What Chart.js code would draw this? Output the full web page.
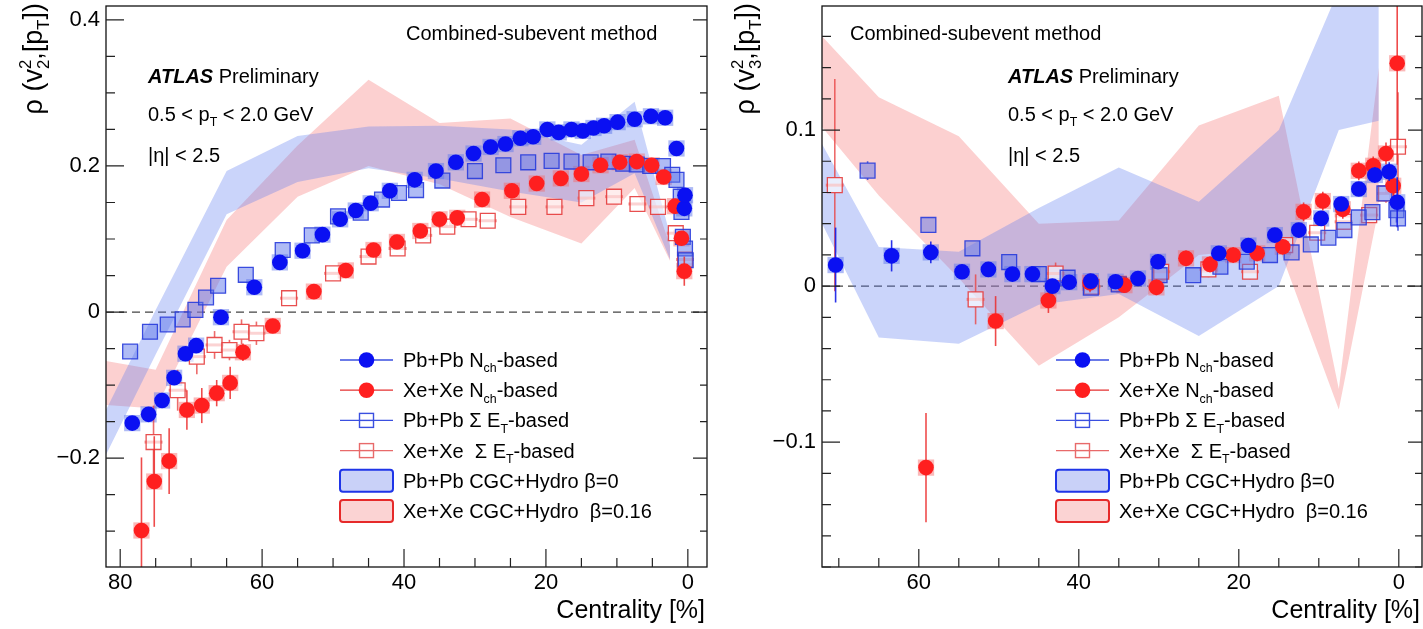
<!DOCTYPE html>
<html>
<head>
<meta charset="utf-8">
<title>rho(vn^2,[pT]) vs centrality</title>
<script src="https://cdn.jsdelivr.net/npm/chart.js@4.4.1/dist/chart.umd.min.js"></script>
<style>
  html, body { margin: 0; padding: 0; background: #fff; }
  #wrap { position: relative; width: 1423px; height: 629px; }
  canvas { position: absolute; top: 0; }
  #cv2 { left: 0; }
  #cv3 { left: 712px; }
</style>
</head>
<body>
<div id="wrap">
  <canvas id="cv2" width="712" height="629"></canvas>
  <canvas id="cv3" width="711" height="629"></canvas>
</div>
<script>
// ---------- left panel: rho(v2^2,[pT]) ----------
const v2XTicks = [0, 20, 40, 60, 80];
const v2YTicks = [-0.2, 0, 0.2, 0.4];

const v2PbNchX = [78.3, 76.0, 74.1, 72.4, 70.8, 69.3, 65.8, 61.1, 57.5, 54.3, 51.5, 49.0, 46.8, 44.7, 42.0, 38.5, 35.5, 32.7, 30.2, 27.8, 25.7, 23.6, 21.8, 19.8, 18.2, 16.4, 14.8, 13.3, 11.8, 9.9, 7.5, 5.2, 3.2, 1.6, 0.5, 0.4];
const v2PbNchY = [-0.152, -0.140, -0.121, -0.090, -0.057, -0.046, -0.007, 0.034, 0.068, 0.084, 0.106, 0.127, 0.139, 0.149, 0.166, 0.181, 0.193, 0.205, 0.217, 0.226, 0.230, 0.238, 0.240, 0.250, 0.246, 0.250, 0.248, 0.252, 0.255, 0.260, 0.264, 0.268, 0.266, 0.224, 0.142, 0.160];
const v2PbNchErr = [0.008, 0.007, 0.006, 0.006, 0.005, 0.005, 0.004, 0.004, 0.004, 0.004, 0.004, 0.004, 0.004, 0.004, 0.004, 0.004, 0.004, 0.004, 0.004, 0.004, 0.004, 0.004, 0.004, 0.004, 0.004, 0.004, 0.004, 0.004, 0.004, 0.004, 0.004, 0.004, 0.005, 0.006, 0.010, 0.010];

const v2XeNchX = [77.0, 75.2, 73.1, 70.6, 68.5, 66.4, 64.5, 62.7, 58.5, 52.7, 48.2, 44.3, 41.0, 37.7, 35.0, 32.5, 29.0, 24.8, 21.3, 17.9, 15.0, 12.3, 9.6, 7.2, 5.1, 3.4, 1.8, 0.9, 0.5];
const v2XeNchY = [-0.299, -0.232, -0.204, -0.134, -0.128, -0.111, -0.097, -0.055, -0.019, 0.028, 0.057, 0.085, 0.096, 0.111, 0.127, 0.129, 0.154, 0.166, 0.176, 0.183, 0.189, 0.201, 0.205, 0.206, 0.201, 0.185, 0.145, 0.101, 0.056];
const v2XeNchErr = [0.100, 0.062, 0.045, 0.027, 0.024, 0.018, 0.022, 0.012, 0.007, 0.005, 0.005, 0.005, 0.005, 0.005, 0.005, 0.005, 0.005, 0.005, 0.005, 0.005, 0.005, 0.005, 0.005, 0.005, 0.005, 0.006, 0.008, 0.010, 0.020];

const v2PbEtX = [78.6, 75.8, 73.3, 71.2, 69.4, 67.9, 66.2, 62.3, 57.1, 53.0, 49.3, 46.1, 43.1, 40.7, 38.3, 34.6, 30.0, 26.0, 22.5, 19.2, 16.4, 13.7, 11.2, 9.1, 7.2, 5.3, 3.5, 2.2, 1.6, 1.0, 0.9, 0.7, 0.4, 0.3];
const v2PbEtY = [-0.054, -0.027, -0.017, -0.010, 0.003, 0.020, 0.036, 0.051, 0.085, 0.105, 0.131, 0.136, 0.154, 0.163, 0.167, 0.180, 0.193, 0.201, 0.205, 0.207, 0.206, 0.205, 0.206, 0.203, 0.202, 0.200, 0.200, 0.188, 0.181, 0.158, 0.137, 0.103, 0.087, 0.071];
const v2PbEtErr = [0.006, 0.005, 0.005, 0.005, 0.004, 0.004, 0.004, 0.004, 0.004, 0.004, 0.004, 0.004, 0.004, 0.004, 0.004, 0.004, 0.004, 0.004, 0.004, 0.004, 0.004, 0.004, 0.004, 0.004, 0.004, 0.004, 0.004, 0.004, 0.004, 0.005, 0.005, 0.006, 0.006, 0.006];

const v2XeEtX = [75.3, 71.9, 69.2, 66.7, 64.6, 62.9, 60.8, 56.2, 50.0, 45.0, 40.9, 37.3, 33.9, 30.9, 28.2, 23.9, 18.8, 14.3, 10.4, 7.1, 4.2, 1.7, 0.4];
const v2XeEtY = [-0.178, -0.107, -0.061, -0.045, -0.052, -0.027, -0.029, 0.019, 0.053, 0.076, 0.087, 0.105, 0.117, 0.127, 0.125, 0.144, 0.144, 0.156, 0.158, 0.148, 0.144, 0.108, 0.072];
const v2XeEtErr = [0.050, 0.028, 0.024, 0.019, 0.014, 0.017, 0.016, 0.006, 0.005, 0.005, 0.004, 0.004, 0.004, 0.004, 0.004, 0.004, 0.004, 0.004, 0.004, 0.004, 0.004, 0.006, 0.010];

const v2BandX = [2.5, 7.5, 15, 25, 35, 45, 55, 65, 75, 85];
const v2PbBandHi = [0.105, 0.288, 0.229, 0.250, 0.255, 0.254, 0.241, 0.193, 0.003, -0.193];
const v2PbBandLo = [0.072, 0.190, 0.150, 0.165, 0.183, 0.197, 0.178, 0.134, -0.058, -0.254];
const v2XeBandHi = [0.090, 0.236, 0.215, 0.265, 0.259, 0.318, 0.228, 0.126, -0.079, -0.062];
const v2XeBandLo = [0.070, 0.170, 0.094, 0.130, 0.175, 0.200, 0.158, 0.062, -0.132, -0.125];

// ---------- right panel: rho(v3^2,[pT]) ----------
const v3XTicks = [0, 20, 40, 60];
const v3YTicks = [-0.1, 0, 0.1];

const v3PbNchX = [70.4, 63.4, 58.5, 54.6, 51.3, 48.3, 45.8, 43.3, 41.2, 38.5, 35.4, 32.6, 30.1, 22.5, 18.8, 15.5, 12.5, 9.7, 7.2, 5.0, 3.0, 1.2, 0.2];
const v3PbNchY = [0.0135, 0.0194, 0.0216, 0.0092, 0.0107, 0.0077, 0.0077, 0.0000, 0.0025, 0.0032, 0.0028, 0.0049, 0.0156, 0.0210, 0.0260, 0.0327, 0.0359, 0.0434, 0.0526, 0.0622, 0.0712, 0.0733, 0.0537];
const v3PbNchErr = [0.024, 0.010, 0.007, 0.004, 0.004, 0.004, 0.004, 0.004, 0.004, 0.004, 0.004, 0.004, 0.004, 0.004, 0.004, 0.004, 0.004, 0.004, 0.004, 0.004, 0.005, 0.006, 0.016];

const v3XeNchX = [59.1, 50.4, 43.8, 38.6, 34.3, 30.3, 26.6, 23.6, 20.7, 17.7, 14.5, 11.9, 9.5, 7.0, 5.0, 3.2, 1.6, 0.7, 0.2];
const v3XeNchY = [-0.1163, -0.0224, -0.0092, 0.0021, 0.0006, -0.0008, 0.0178, 0.0139, 0.0199, 0.0210, 0.0252, 0.0476, 0.0545, 0.0492, 0.0739, 0.0771, 0.0850, 0.0643, 0.1428];
const v3XeNchErr = [0.035, 0.016, 0.008, 0.006, 0.005, 0.005, 0.005, 0.005, 0.005, 0.005, 0.005, 0.006, 0.006, 0.006, 0.006, 0.006, 0.007, 0.012, 0.065];

const v3PbEtX = [66.4, 58.8, 53.3, 48.7, 45.0, 41.4, 38.5, 35.0, 29.9, 25.7, 22.3, 19.0, 16.1, 13.4, 11.0, 8.8, 6.8, 5.0, 3.3, 1.8, 0.3, 0.1];
const v3PbEtY = [0.0740, 0.0392, 0.0242, 0.0154, 0.0077, 0.0054, -0.0010, 0.0010, 0.0070, 0.0070, 0.0124, 0.0156, 0.0199, 0.0216, 0.0267, 0.0310, 0.0359, 0.0440, 0.0474, 0.0594, 0.0487, 0.0434];
const v3PbEtErr = [0.006, 0.005, 0.004, 0.004, 0.004, 0.004, 0.004, 0.004, 0.004, 0.004, 0.004, 0.004, 0.004, 0.004, 0.004, 0.004, 0.004, 0.004, 0.004, 0.005, 0.008, 0.008];

const v3XeEtX = [70.5, 52.9, 42.9, 38.4, 35.0, 29.7, 23.8, 18.6, 14.2, 10.2, 6.9, 3.7, 1.6, 0.1];
const v3XeEtY = [0.0647, -0.0085, 0.0081, -0.0004, 0.0015, 0.0092, 0.0107, 0.0092, 0.0263, 0.0342, 0.0412, 0.0455, 0.0594, 0.0893];
const v3XeEtErr = [0.068, 0.016, 0.007, 0.005, 0.005, 0.005, 0.005, 0.005, 0.005, 0.005, 0.005, 0.005, 0.006, 0.035];

const v3BandX = [2.5, 7.5, 15, 25, 35, 45, 55, 65, 75];
const v3PbBandHi = [0.350, 0.190, 0.100, 0.054, 0.076, 0.050, 0.022, 0.025, 0.118];
const v3PbBandLo = [0.106, 0.100, 0.000, -0.032, -0.005, -0.012, -0.037, -0.033, 0.070];
const v3XeBandHi = [0.140, -0.066, 0.122, 0.103, 0.042, 0.040, 0.096, 0.121, 0.176];
const v3XeBandLo = [0.050, -0.079, 0.025, 0.020, -0.020, -0.051, 0.005, 0.058, 0.120];

// ---------- styling ----------
const FONT = '"Liberation Sans", Arial, Helvetica, sans-serif';
const BLUE = '#0a10f2';
const RED = '#ff1f1f';
const BLUE_SYS = 'rgba(95, 120, 235, 0.5)';
const RED_SYS = 'rgba(245, 100, 100, 0.45)';
const BLUE_BAND = 'rgba(95, 125, 240, 0.33)';
const RED_BAND = 'rgba(245, 110, 110, 0.32)';

const panels = {
  cv2: {
    xMin: -2.7, xMax: 82, yMin: -0.349, yMax: 0.419,
    xTicks: v2XTicks, yTicks: v2YTicks, xMinor: 5, yMinor: 0.05,
    yAxisW: 106, padRight: 5, combinedX: 300, atlasX: 42, yTitleOff: 64, n: '2'
  },
  cv3: {
    xMin: -2.9, xMax: 72.1, yMin: -0.180, yMax: 0.1795,
    xTicks: v3XTicks, yTicks: v3YTicks, xMinor: 5, yMinor: 0.02,
    yAxisW: 110, padRight: 1, combinedX: 28, atlasX: 186, yTitleOff: 68, n: '3'
  }
};

const legendRows = [
  {kind: 'dot', color: BLUE, line: '#3a4fe0', parts: [['Pb+Pb N', ''], ['ch', 'sub'], ['-based', '']]},
  {kind: 'dot', color: RED, line: '#e53030', parts: [['Xe+Xe N', ''], ['ch', 'sub'], ['-based', '']]},
  {kind: 'sq', color: '#3a4fe0', line: '#3a4fe0', parts: [['Pb+Pb \u03A3 E', ''], ['T', 'sub'], ['-based', '']]},
  {kind: 'sq', color: '#e86a6a', line: '#e86a6a', parts: [['Xe+Xe  \u03A3 E', ''], ['T', 'sub'], ['-based', '']]},
  {kind: 'box', fill: '#c9d1f8', color: '#1f35e8', parts: [['Pb+Pb CGC+Hydro \u03B2=0', '']]},
  {kind: 'box', fill: '#fbd3d3', color: '#e62a2a', parts: [['Xe+Xe CGC+Hydro  \u03B2=0.16', '']]}
];

function pts(xs, ys) {
  return xs.map((x, i) => ({x: x, y: ys[i]}));
}

function tickValues(min, max, step) {
  const out = [];
  for (let k = Math.ceil(min / step - 1e-9); k * step <= max + 1e-9; k++) out.push(+(k * step).toFixed(6));
  return out;
}

// draws text made of pieces: normal, sub, sup, bold italic, stacked sup/sub
function richText(ctx, x, y, parts, size, draw) {
  for (const [t, k] of parts) {
    if (k === 'supsub') {
      ctx.font = (size * 0.62) + 'px ' + FONT;
      const w = Math.max(ctx.measureText(t[0]).width, ctx.measureText(t[1]).width);
      if (draw) {
        ctx.fillText(t[0], x, y - size * 0.42);
        ctx.fillText(t[1], x, y + size * 0.27);
      }
      x += w;
      continue;
    }
    const small = k === 'sub' || k === 'sup';
    ctx.font = (k === 'bi' ? 'italic bold ' : '') + (small ? size * 0.62 : size) + 'px ' + FONT;
    const dy = k === 'sub' ? size * 0.27 : (k === 'sup' ? -size * 0.42 : 0);
    if (draw) ctx.fillText(t, x, y + dy);
    x += ctx.measureText(t).width;
  }
  return x;
}

// vertical error bars, drawn only outside the marker
const errorBars = {
  id: 'errorBars',
  beforeDatasetDraw(chart, args) {
    const ds = chart.data.datasets[args.index];
    if (!ds.errors) return;
    const {ctx, chartArea: a} = chart;
    const sy = chart.scales.y;
    const gap = ds.errGap || 0;
    ctx.save();
    ctx.beginPath();
    ctx.rect(a.left, a.top, a.right - a.left, a.bottom - a.top);
    ctx.clip();
    args.meta.data.forEach((p, i) => {
      const v = ds.data[i].y, e = ds.errors[i];
      const top = sy.getPixelForValue(v + e), bot = sy.getPixelForValue(v - e);
      ctx.strokeStyle = ds.errColor;
      ctx.lineWidth = 1.6;
      if (p.y - top > gap) {
        ctx.beginPath();
        ctx.moveTo(p.x, p.y - gap);
        ctx.lineTo(p.x, top);
        ctx.stroke();
      }
      if (bot - p.y > gap) {
        ctx.beginPath();
        ctx.moveTo(p.x, p.y + gap);
        ctx.lineTo(p.x, bot);
        ctx.stroke();
      }
      if (ds.sysLine) {
        // flat systematic box seen through the open marker
        ctx.strokeStyle = ds.sysLine;
        ctx.lineWidth = 3;
        ctx.beginPath();
        ctx.moveTo(p.x - 9, p.y);
        ctx.lineTo(p.x + 9, p.y);
        ctx.stroke();
      }
    });
    ctx.restore();
  }
};

// ROOT style frame, inner ticks, labels and legend
const atlasDecor = {
  id: 'atlasDecor',
  beforeDatasetsDraw(chart) {
    const {ctx, chartArea: a} = chart;
    const y0 = chart.scales.y.getPixelForValue(0);
    ctx.save();
    ctx.strokeStyle = '#444';
    ctx.lineWidth = 1.2;
    ctx.setLineDash([8, 5]);
    ctx.beginPath();
    ctx.moveTo(a.left, y0);
    ctx.lineTo(a.right, y0);
    ctx.stroke();
    ctx.restore();
  },
  afterDraw(chart) {
    const p = panels[chart.canvas.id];
    const {ctx, chartArea: a} = chart;
    const sx = chart.scales.x, sy = chart.scales.y;
    ctx.save();

    ctx.strokeStyle = '#111';
    ctx.lineWidth = 1.3;
    ctx.strokeRect(a.left, a.top, a.right - a.left, a.bottom - a.top);

    ctx.lineWidth = 1.2;
    ctx.strokeStyle = '#222';
    tickValues(p.xMin, p.xMax, p.xMinor).forEach(v => {
      const major = p.xTicks.some(t => Math.abs(t - v) < 1e-9);
      const px = sx.getPixelForValue(v);
      ctx.beginPath();
      ctx.moveTo(px, a.bottom);
      ctx.lineTo(px, a.bottom - (major ? 18 : 9));
      ctx.stroke();
    });
    tickValues(p.yMin, p.yMax, p.yMinor).forEach(v => {
      const major = p.yTicks.some(t => Math.abs(t - v) < 1e-9);
      const py = sy.getPixelForValue(v);
      ctx.beginPath();
      ctx.moveTo(a.left, py);
      ctx.lineTo(a.left + (major ? 18 : 9), py);
      ctx.moveTo(a.right, py);
      ctx.lineTo(a.right - (major ? 14 : 7), py);
      ctx.stroke();
    });

    ctx.fillStyle = '#000';
    ctx.textBaseline = 'alphabetic';
    ctx.textAlign = 'left';
    const fs = 20;
    richText(ctx, a.left + p.combinedX, a.top + 34, [['Combined-subevent method', '']], fs, true);
    richText(ctx, a.left + p.atlasX, a.top + 77, [['ATLAS', 'bi'], [' Preliminary', '']], fs, true);
    richText(ctx, a.left + p.atlasX, a.top + 115, [['0.5 < p', ''], ['T', 'sub'], [' < 2.0 GeV', '']], fs, true);
    richText(ctx, a.left + p.atlasX, a.top + 156, [['|\u03B7| < 2.5', '']], fs, true);

    // legend
    const x0 = a.left + 234, x1 = a.left + 287, xm = (x0 + x1) / 2, xt = a.left + 297;
    legendRows.forEach((row, i) => {
      const yb = a.top + 361 + i * 30.2;
      const yc = yb - 7;
      if (row.kind === 'box') {
        ctx.fillStyle = row.fill;
        ctx.strokeStyle = row.color;
        ctx.lineWidth = 2;
        ctx.beginPath();
        if (ctx.roundRect) ctx.roundRect(x0, yc - 11, x1 - x0, 22, 3);
        else ctx.rect(x0, yc - 11, x1 - x0, 22);
        ctx.fill();
        ctx.stroke();
      } else {
        ctx.strokeStyle = row.line;
        ctx.lineWidth = 1.3;
        ctx.beginPath();
        ctx.moveTo(x0, yc);
        ctx.lineTo(x1, yc);
        ctx.stroke();
        if (row.kind === 'dot') {
          ctx.fillStyle = row.color;
          ctx.beginPath();
          ctx.arc(xm, yc, 7.8, 0, Math.PI * 2);
          ctx.fill();
        } else {
          ctx.fillStyle = '#fff';
          ctx.fillRect(xm - 7, yc - 7, 14, 14);
          ctx.strokeStyle = row.color;
          ctx.lineWidth = 1.4;
          ctx.strokeRect(xm - 7, yc - 7, 14, 14);
          ctx.beginPath();
          ctx.moveTo(xm - 7, yc);
          ctx.lineTo(xm + 7, yc);
          ctx.stroke();
        }
      }
      ctx.fillStyle = '#000';
      richText(ctx, xt, yb, row.parts, fs, true);
    });

    // axis titles
    ctx.font = '25px ' + FONT;
    ctx.textAlign = 'right';
    ctx.fillText('Centrality [%]', a.right - 2, a.bottom + 51);
    ctx.textAlign = 'left';
    const yTitle = [['\u03C1 (v', ''], [['2', p.n], 'supsub'], [',[p', ''], ['T', 'sub'], ['])', '']];
    const w = richText(ctx, 0, 0, yTitle, 27, false);
    ctx.translate(a.left - p.yTitleOff, 3 + w);
    ctx.rotate(-Math.PI / 2);
    richText(ctx, 0, 0, yTitle, 27, true);
    ctx.restore();
  }
};

function buildDatasets(d) {
  const marker = (label, xs, ys, errs, style) => Object.assign({
    label: label, data: pts(xs, ys), errors: errs, borderWidth: 0
  }, style);
  return [
    marker('Pb+Pb Nch-based', d.pbNchX, d.pbNchY, d.pbNchErr,
      {pointStyle: 'circle', pointRadius: 7.8, backgroundColor: BLUE, errColor: 'rgba(20,30,230,0.9)', errGap: 6, order: 1}),
    marker('Xe+Xe Nch-based', d.xeNchX, d.xeNchY, d.xeNchErr,
      {pointStyle: 'circle', pointRadius: 7.8, backgroundColor: RED, errColor: 'rgba(235,45,45,0.85)', errGap: 6, order: 2}),
    marker('Pb+Pb SumET-based', d.pbEtX, d.pbEtY, d.pbEtErr,
      {pointStyle: 'rect', pointRadius: 10.5, backgroundColor: 'rgba(95,120,235,0.5)', borderColor: 'rgba(40,60,220,0.9)', borderWidth: 1.3, errColor: 'rgba(40,60,220,0.8)', errGap: 7.5, order: 3}),
    marker('Xe+Xe SumET-based', d.xeEtX, d.xeEtY, d.xeEtErr,
      {pointStyle: 'rect', pointRadius: 10.5, backgroundColor: 'rgba(255,255,255,0.6)', borderColor: 'rgba(230,60,60,0.9)', borderWidth: 1.3, errColor: 'rgba(232,70,70,0.8)', errGap: 7.5, sysLine: 'rgba(240,110,110,0.75)', order: 4}),
    {label: 'Xe+Xe Nch sys', data: pts(d.xeNchX, d.xeNchY), pointStyle: 'rect', pointRadius: 11.5, backgroundColor: RED_SYS, borderWidth: 0, order: 5},
    {label: 'Pb+Pb Nch sys', data: pts(d.pbNchX, d.pbNchY), pointStyle: 'rect', pointRadius: 11.5, backgroundColor: BLUE_SYS, borderWidth: 0, order: 6},
    {label: 'Pb+Pb CGC+Hydro upper', data: pts(d.bandX, d.pbHi), showLine: true, pointRadius: 0, borderColor: 'rgba(0,0,0,0)', borderWidth: 0, backgroundColor: BLUE_BAND, fill: '+1', order: 10},
    {label: 'Pb+Pb CGC+Hydro lower', data: pts(d.bandX, d.pbLo), showLine: true, pointRadius: 0, borderColor: 'rgba(0,0,0,0)', borderWidth: 0, fill: false, order: 10},
    {label: 'Xe+Xe CGC+Hydro upper', data: pts(d.bandX, d.xeHi), showLine: true, pointRadius: 0, borderColor: 'rgba(0,0,0,0)', borderWidth: 0, backgroundColor: RED_BAND, fill: '+1', order: 11},
    {label: 'Xe+Xe CGC+Hydro lower', data: pts(d.bandX, d.xeLo), showLine: true, pointRadius: 0, borderColor: 'rgba(0,0,0,0)', borderWidth: 0, fill: false, order: 11}
  ];
}

function minusLabel(v) {
  if (v === 0) return '0';
  return v < 0 ? '\u2212' + String(-v) : String(v);
}

function makeChart(id, d) {
  const p = panels[id];
  const tickFont = {family: FONT, size: 22};
  return new Chart(document.getElementById(id), {
    type: 'scatter',
    data: {datasets: buildDatasets(d)},
    options: {
      responsive: false,
      animation: false,
      events: [],
      layout: {autoPadding: false, padding: {top: 6, right: p.padRight, left: 0, bottom: 0}},
      plugins: {legend: {display: false}, tooltip: {enabled: false}},
      scales: {
        x: {
          type: 'linear', reverse: true, min: p.xMin, max: p.xMax,
          afterBuildTicks: s => { s.ticks = p.xTicks.map(v => ({value: v})); },
          afterFit: s => { s.height = 62; s.paddingLeft = 0; s.paddingRight = 0; },
          grid: {display: false, drawTicks: false},
          border: {display: false},
          ticks: {autoSkip: false, maxRotation: 0, padding: 3, color: '#000', font: tickFont, callback: v => String(v)}
        },
        y: {
          type: 'linear', min: p.yMin, max: p.yMax,
          afterBuildTicks: s => { s.ticks = p.yTicks.map(v => ({value: v})); },
          afterFit: s => { s.width = p.yAxisW; s.paddingTop = 0; s.paddingBottom = 0; },
          grid: {display: false, drawTicks: false},
          border: {display: false},
          ticks: {autoSkip: false, padding: 6, color: '#000', font: tickFont, callback: v => minusLabel(v)}
        }
      }
    },
    plugins: [errorBars, atlasDecor]
  });
}

makeChart('cv2', {
  pbNchX: v2PbNchX, pbNchY: v2PbNchY, pbNchErr: v2PbNchErr,
  xeNchX: v2XeNchX, xeNchY: v2XeNchY, xeNchErr: v2XeNchErr,
  pbEtX: v2PbEtX, pbEtY: v2PbEtY, pbEtErr: v2PbEtErr,
  xeEtX: v2XeEtX, xeEtY: v2XeEtY, xeEtErr: v2XeEtErr,
  bandX: v2BandX, pbHi: v2PbBandHi, pbLo: v2PbBandLo, xeHi: v2XeBandHi, xeLo: v2XeBandLo
});

makeChart('cv3', {
  pbNchX: v3PbNchX, pbNchY: v3PbNchY, pbNchErr: v3PbNchErr,
  xeNchX: v3XeNchX, xeNchY: v3XeNchY, xeNchErr: v3XeNchErr,
  pbEtX: v3PbEtX, pbEtY: v3PbEtY, pbEtErr: v3PbEtErr,
  xeEtX: v3XeEtX, xeEtY: v3XeEtY, xeEtErr: v3XeEtErr,
  bandX: v3BandX, pbHi: v3PbBandHi, pbLo: v3PbBandLo, xeHi: v3XeBandHi, xeLo: v3XeBandLo
});
</script>
</body>
</html>
